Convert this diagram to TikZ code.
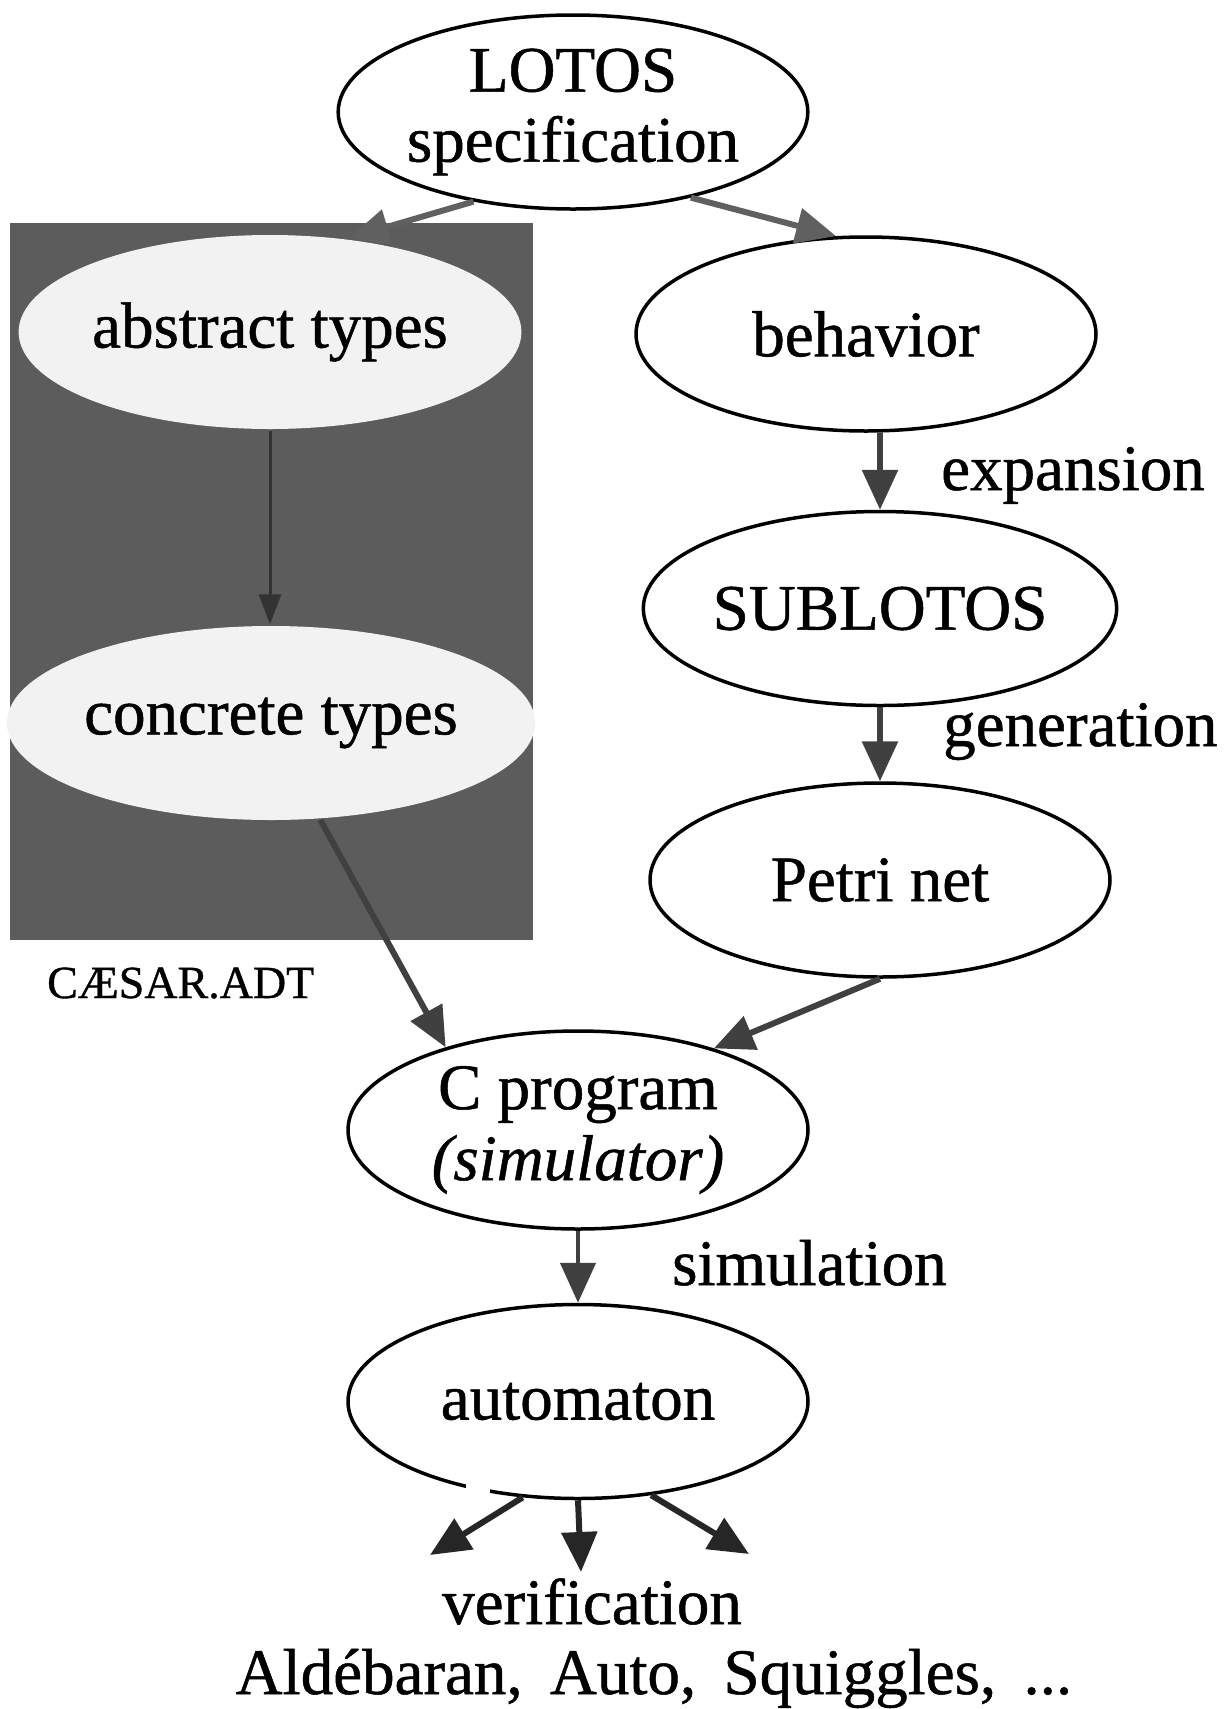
\documentclass[tikz,border=0pt]{standalone}
\usepackage{fontspec}
\setmainfont{Liberation Serif}[FakeBold=0.8]
\usetikzlibrary{positioning,arrows.meta,shapes.geometric}
\definecolor{adtgray}{gray}{0.36}
\definecolor{adtfill}{gray}{0.95}
\definecolor{arrowgray}{gray}{0.25}

\begin{document}
\begin{tikzpicture}[x=1pt, y=-1pt, font=\fontsize{65}{70}\selectfont, >={Triangle[length=40pt,width=35pt]}]
\tikzset{ell/.style={ellipse, draw, line width=3.5pt, fill=white, inner sep=0pt, minimum width=460pt, minimum height=194pt, align=center},adtell/.style={ell, draw=none, fill=adtfill},arrow/.style={->, line width=6pt, draw=arrowgray},thinarrow/.style={-{Triangle[length=30pt,width=22pt]}, line width=3pt, draw=black!80},lbl/.style={anchor=base west, inner sep=0pt}}
\useasboundingbox (0,0) rectangle (1230,1709);
% the CAESAR.ADT part
\node[fill=adtgray, minimum width=523pt, minimum height=717pt, inner sep=0pt] (adt) at (271.5,581.5) {};
\node[adtell] (abs) at (270,332) {abstract types};
\node[adtell] (con) at (271,723) {concrete types};
\node[lbl, font=\fontsize{46}{50}\selectfont] (adtlbl) at (47,998) {CÆSAR.ADT};
% the main chain
\node[ell] (lotos) at (573,112) {LOTOS\\specification};
\node[ell] (beh) at (866,334) {behavior};
\node[ell, below=77pt of beh, xshift=14pt] (sub) {SUBLOTOS};
\node[ell, below=74pt of sub] (petri) {Petri net};
\node[ell, minimum height=198pt, font=\fontsize{65}{71}\selectfont] (cprog) at (578,1130) {C program\\\textit{(simulator)}};
\node[ell, below=72pt of cprog] (auto) {automaton};
\fill[white] (466,1476) rectangle (490,1496);
\node[lbl] (exp) at (941,490) {expansion};
\node[lbl] (gen) at (943,746) {generation};
\node[lbl] (sim) at (672,1285) {simulation};
\node[anchor=base, inner sep=0pt] (verif) at (592,1624) {verification};
\node[anchor=base, inner sep=0pt] (tools) at (654,1694) {\spaceskip=0.42em\relax Aldébaran, Auto, Squiggles, ...};
\coordinate (vl) at (430,1555);
\coordinate (vm) at (581,1572);
\coordinate (vr) at (749,1554);
\draw[arrow, draw=gray!75!black] (lotos.222) -- (abs.50);
\draw[arrow, draw=gray!75!black] (lotos.324) -- (beh.107);
\draw[thinarrow] (abs) -- (abs |- con.north);
\draw[arrow] (beh.south -| sub) -- (sub); \draw[arrow] (sub) -- (petri);
\draw[arrow] (con.297) -- (cprog.148); \draw[arrow] (petri.south) -- (cprog.31);
\draw[arrow, line width=4.5pt] (cprog) -- (auto);
\draw[arrow, draw=black!85] (auto.240) -- (vl); \draw[arrow, draw=black!85] (auto.south) -- (vm); \draw[arrow, draw=black!85] (auto.308) -- (vr);
\end{tikzpicture}
\end{document}
